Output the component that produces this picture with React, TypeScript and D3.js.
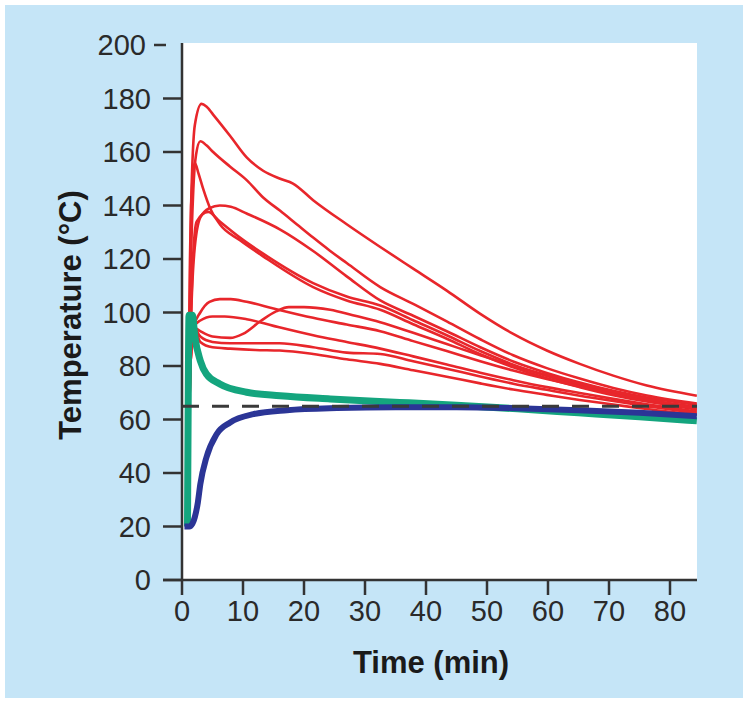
import React from 'react';
import * as d3 from 'd3';

type P = [number, number];

const xTicks = [0, 10, 20, 30, 40, 50, 60, 70, 80];
const yTicks = [0, 20, 40, 60, 80, 100, 120, 140, 160, 180, 200];
const thresholdTemp = 65;

// Red curves (time min, temperature °C)
const red1: P[] = [[0.9, 20], [1.3, 119], [2.1, 170], [3.2, 178], [4, 177], [5.1, 174], [7.9, 166], [10.6, 158], [13.3, 153], [16.1, 150], [18.2, 148.2], [21.5, 142], [27, 133], [32.5, 124.5], [37.9, 116.4], [43.4, 108.2], [48.9, 99.5], [54.3, 92], [59.8, 85.8], [65.2, 80.8], [70.7, 76.4], [76.2, 72.7], [84.4, 68.9]];
const red2: P[] = [[0.9, 20], [1.3, 100], [1.85, 145.7], [2.3, 159], [3, 164], [4, 162.5], [5.1, 160], [7.9, 154.5], [10.6, 149.5], [13.3, 143], [16.1, 138], [18.8, 133], [21.5, 128], [24.3, 123], [27, 118.5], [32.5, 109.5], [37.9, 103.2], [43.4, 96.7], [48.9, 90], [54.3, 84], [59.8, 79.2], [65.2, 75.3], [70.7, 71.8], [76.2, 69], [84.4, 66]];
const red3: P[] = [[0.9, 20], [1.2, 90], [1.5, 140], [2.1, 156], [2.7, 152], [3.5, 146], [4.6, 139], [6.2, 133], [9.5, 127], [13.3, 121], [21.5, 109.5], [27, 104.5], [32.5, 101], [37.9, 95.6], [43.4, 90.2], [48.9, 84.4], [54.3, 79.5], [59.8, 75.4], [65.2, 72.1], [70.7, 69.1], [76.2, 66.7], [84.4, 64.2]];
const red4: P[] = [[0.9, 20], [1.4, 90], [2, 122], [3, 135.5], [4.5, 139], [6.2, 140], [8, 139.5], [10.6, 137], [16.1, 131], [21.5, 123], [27, 113.5], [32.5, 104.5], [37.9, 98.8], [43.4, 93], [48.9, 87], [54.3, 81.7], [59.8, 77.4], [65.2, 73.8], [70.7, 70.7], [76.2, 68.2], [84.4, 65.5]];
const red5: P[] = [[0.9, 20], [1.3, 80], [1.8, 120], [2.4, 134], [4.3, 137.6], [6.2, 134], [9.5, 128], [13.3, 122], [21.5, 111], [27, 106], [32.5, 102.6], [37.9, 97.1], [43.4, 91.5], [48.9, 85.6], [54.3, 80.5], [59.8, 76.3], [65.2, 72.9], [70.7, 69.9], [76.2, 67.4], [84.4, 64.8]];
const redA: P[] = [[0.9, 20], [1.3, 75], [1.9, 94.5], [3, 100], [4.5, 104], [6.2, 105], [8, 105], [10.6, 104], [15, 101.5], [21.5, 98], [27, 95.5], [32.5, 93], [37.9, 89.3], [43.4, 85.6], [48.9, 81.8], [54.3, 78.3], [59.8, 75.1], [65.2, 72.3], [70.7, 69.5], [76.2, 67], [84.4, 63.7]];
const redB: P[] = [[0.9, 20], [1.3, 75], [1.9, 94.5], [3, 97], [5, 98.5], [7, 98.5], [10.6, 97.5], [15, 95], [21.5, 91.5], [27, 89], [32.5, 86.5], [37.9, 83.6], [43.4, 80.6], [48.9, 77.5], [54.3, 74.7], [59.8, 72.1], [65.2, 69.9], [70.7, 67.7], [76.2, 65.7], [84.4, 63]];
const redC: P[] = [[0.9, 20], [1.3, 75], [1.9, 94.5], [3, 93], [5, 91], [7.9, 90.5], [10, 92], [13, 97], [15.5, 100.5], [17.5, 102], [20, 102], [24.3, 101], [28, 99], [32.5, 96.4], [37.9, 92.4], [43.4, 88.2], [48.9, 84], [54.3, 80.1], [59.8, 76.6], [65.2, 73.5], [70.7, 70.4], [76.2, 67.7], [84.4, 64]];
const redD: P[] = [[0.9, 20], [1.3, 75], [1.9, 94.5], [3, 91], [5, 89], [7.9, 88.5], [12, 88.5], [16, 88.5], [21.5, 87], [27, 85], [32.5, 84.5], [37.9, 81.8], [43.4, 79], [48.9, 76.1], [54.3, 73.4], [59.8, 71.1], [65.2, 68.9], [70.7, 66.9], [76.2, 65], [84.4, 62.5]];
const redE: P[] = [[0.9, 20], [1.3, 75], [1.9, 94.5], [3, 89], [5, 87], [7.9, 86.5], [12, 86], [16, 85.8], [21.5, 84.5], [27, 82.5], [32.5, 80.8], [37.9, 78.4], [43.4, 76], [48.9, 73.5], [54.3, 71.2], [59.8, 69.2], [65.2, 67.3], [70.7, 65.6], [76.2, 63.9], [84.4, 61.8]];
const redSeries: P[][] = [red1, red2, red3, red4, red5, redA, redB, redC, redD, redE];

const greenSeries: P[] = [[0.9, 20], [1.0, 60], [1.15, 99], [1.7, 99], [2.1, 91], [3, 82], [4, 77], [6.2, 73.3], [10.6, 70.2], [16.1, 68.9], [24.3, 67.7], [35.7, 66.4], [45, 65.3], [55, 64], [65, 62.5], [75, 61], [84.4, 59.5]];
const blueSeries: P[] = [[0.4, 20], [1.2, 20], [1.7, 21], [2.1, 23.5], [2.6, 29], [3, 35.8], [4, 45.8], [5.7, 54.6], [7.9, 58.9], [11.7, 62], [17.2, 63.5], [25.4, 64.3], [35, 64.6], [45, 64.6], [55, 64.2], [65, 63.5], [75, 62.5], [84.4, 61.2]];

const FONT = '"Liberation Sans", Arial, Helvetica, sans-serif';
const RED = '#e8262b';
const GREEN = '#14a57e';
const BLUE = '#2b3596';
const AXIS = '#333333';

export default function App() {
  const x = d3.scaleLinear().domain([0, 80]).range([182, 670]);
  const y = d3.scaleLinear().domain([0, 200]).range([580, 45]);
  const line = d3
    .line<P>()
    .x((d) => x(d[0]))
    .y((d) => y(d[1]))
    .curve(d3.curveMonotoneX);

  const plotRight = 697;

  return (
    <svg
      width={750}
      height={706}
      style={{ position: 'absolute', left: 0, top: 0, fontFamily: FONT }}
    >
      <rect x={0} y={0} width={750} height={706} fill="#ffffff" />
      <rect x={5} y={5} width={738} height={693} fill="#c5e5f7" />
      <rect x={183} y={43} width={plotRight - 183} height={537} fill="#ffffff" />
      <defs>
        <clipPath id="plotclip">
          <rect x={183} y={30} width={plotRight - 183} height={550} />
        </clipPath>
      </defs>
      <g clipPath="url(#plotclip)">
        {redSeries.map((s, i) => (
          <path key={i} d={line(s) || ''} fill="none" stroke={RED} strokeWidth={2.6} strokeLinejoin="round" />
        ))}
        <path d={line(greenSeries) || ''} fill="none" stroke={GREEN} strokeWidth={7} strokeLinejoin="round" />
        <path d={line(blueSeries) || ''} fill="none" stroke={BLUE} strokeWidth={6} strokeLinejoin="round" />
        <line
          x1={x(0)}
          x2={plotRight}
          y1={y(thresholdTemp)}
          y2={y(thresholdTemp)}
          stroke="#3a3a3a"
          strokeWidth={3}
          strokeDasharray="17 13"
        />
      </g>
      {/* axes */}
      <line x1={163} x2={plotRight} y1={580} y2={580} stroke={AXIS} strokeWidth={2.5} />
      <line x1={182} x2={182} y1={43} y2={595} stroke={AXIS} strokeWidth={2.5} />
      {xTicks.map((t) => (
        <g key={'x' + t}>
          {t !== 0 && <line x1={x(t)} x2={x(t)} y1={580} y2={595} stroke={AXIS} strokeWidth={2.5} />}
          <text x={x(t)} y={621} textAnchor="middle" fontSize={29} fill="#2a2a2a">
            {t}
          </text>
        </g>
      ))}
      {yTicks.map((v) => (
        <g key={'y' + v}>
          {v === 200 ? (
            <line x1={154} x2={166} y1={y(v)} y2={y(v)} stroke={AXIS} strokeWidth={2.5} />
          ) : (
            <line x1={163} x2={182} y1={y(v)} y2={y(v)} stroke={AXIS} strokeWidth={2.5} />
          )}
          <text x={v === 200 ? 146 : 151} y={y(v)} dy="0.35em" textAnchor="end" fontSize={29} fill="#2a2a2a">
            {v}
          </text>
        </g>
      ))}
      <text x={431} y={673} textAnchor="middle" fontSize={31} fontWeight="bold" fill="#1a1a1a">
        Time (min)
      </text>
      <text
        transform="translate(81,315) rotate(-90)"
        textAnchor="middle"
        fontSize={31}
        fontWeight="bold"
        fill="#1a1a1a"
      >
        Temperature (°C)
      </text>
    </svg>
  );
}
